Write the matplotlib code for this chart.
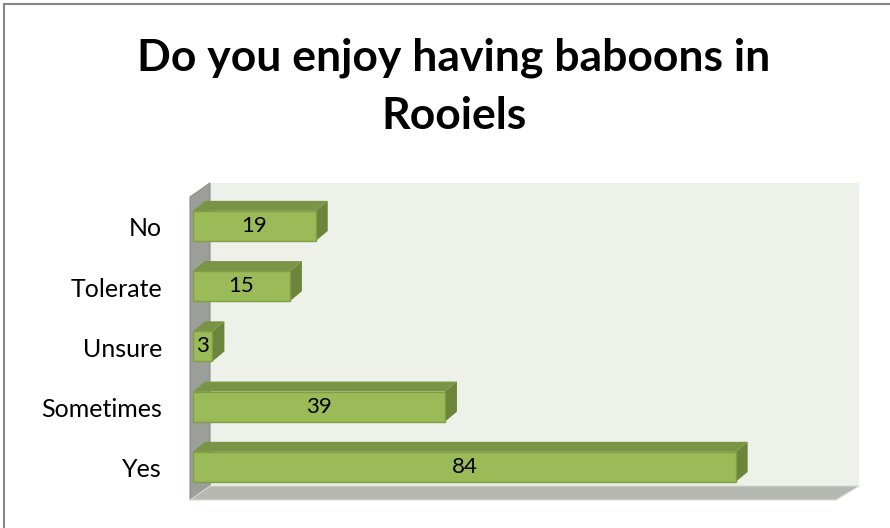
import matplotlib
matplotlib.use('Agg')
import matplotlib.pyplot as plt
from matplotlib.patches import Polygon
from matplotlib.lines import Line2D

categories = ['Yes', 'Sometimes', 'Unsure', 'Tolerate', 'No']
values = [84, 39, 3, 15, 19]
title = 'Do you enjoy having baboons in\nRooiels'

FRONT = '#9BBB59'
TOP = '#7A9446'
SIDE = '#6B853A'
EDGE = '#7F9E45'

plt.rcParams['font.family'] = ['Lato', 'DejaVu Sans']

fig = plt.figure(figsize=(8.9, 5.28), dpi=100)
ax = fig.add_axes([193 / 890, 1 - 500 / 528, 646 / 890, 303 / 528])
ax.set_xlim(0, 100)
ax.set_ylim(-0.55, 4.48)
ax.axis('off')

# px -> data conversion for 3D offsets
px_x = 100 / 646
px_y = 5.03 / 303
wdx, wdy = 20 * px_x, 14 * px_y      # wall depth
bdx, bdy = 12 * px_x, 10 * px_y      # bar depth
x0 = -3 * px_x
ylo, yhi = -0.55, 4.48
xhi = 100

# back wall
ax.add_patch(Polygon([(x0 + wdx, ylo + wdy), (xhi + wdx, ylo + wdy),
                      (xhi + wdx, yhi + wdy), (x0 + wdx, yhi + wdy)],
                     closed=True, fc='#EEF1EA', ec='none', clip_on=False, zorder=1))
# left wall
ax.add_patch(Polygon([(x0, ylo), (x0 + wdx, ylo + wdy), (x0 + wdx, yhi + wdy), (x0, yhi)],
                     closed=True, fc='#9C9E9A', ec='#8A8C88', lw=0.8, clip_on=False, zorder=2))
# floor
ax.add_patch(Polygon([(x0, ylo), (xhi - 3 * px_x, ylo), (xhi + wdx, ylo + wdy), (x0 + wdx, ylo + wdy)],
                     closed=True, fc='#B6B9B1', ec='#D8DAD5', lw=0.8, clip_on=False, zorder=2))

h = 0.5
for i, (cat, v) in enumerate(zip(categories, values)):
    yb, yt = i - h / 2, i + h / 2
    ax.add_patch(Polygon([(0, yt), (v, yt), (v + bdx, yt + bdy), (bdx, yt + bdy)],
                         closed=True, fc=TOP, ec='none', clip_on=False, zorder=3))
    ax.add_patch(Polygon([(v, yb), (v, yt), (v + bdx, yt + bdy), (v + bdx, yb + bdy)],
                         closed=True, fc=SIDE, ec='none', clip_on=False, zorder=3))
    ax.add_patch(Polygon([(0, yb), (v, yb), (v, yt), (0, yt)],
                         closed=True, fc=FRONT, ec=EDGE, lw=1.0, clip_on=False, zorder=4))
    ax.text(v / 2, i, str(v), ha='center', va='center', fontsize=16, color='black', zorder=5)
    ax.text(-31 * px_x, i - 3 * px_y, cat, ha='right', va='center', fontsize=18, color='black')

fig.text(454 / 890, 1 - 87 / 528, title, ha='center', va='center', fontsize=32,
         fontweight='bold', linespacing=1.55)

# chart border (top and left visible)
fig.add_artist(Line2D([4 / 890, 1], [1 - 4 / 528, 1 - 4 / 528], color='#868686', lw=1.5))
fig.add_artist(Line2D([4 / 890, 4 / 890], [0, 1 - 4 / 528], color='#868686', lw=1.5))

fig.savefig('out.png', dpi=100)
